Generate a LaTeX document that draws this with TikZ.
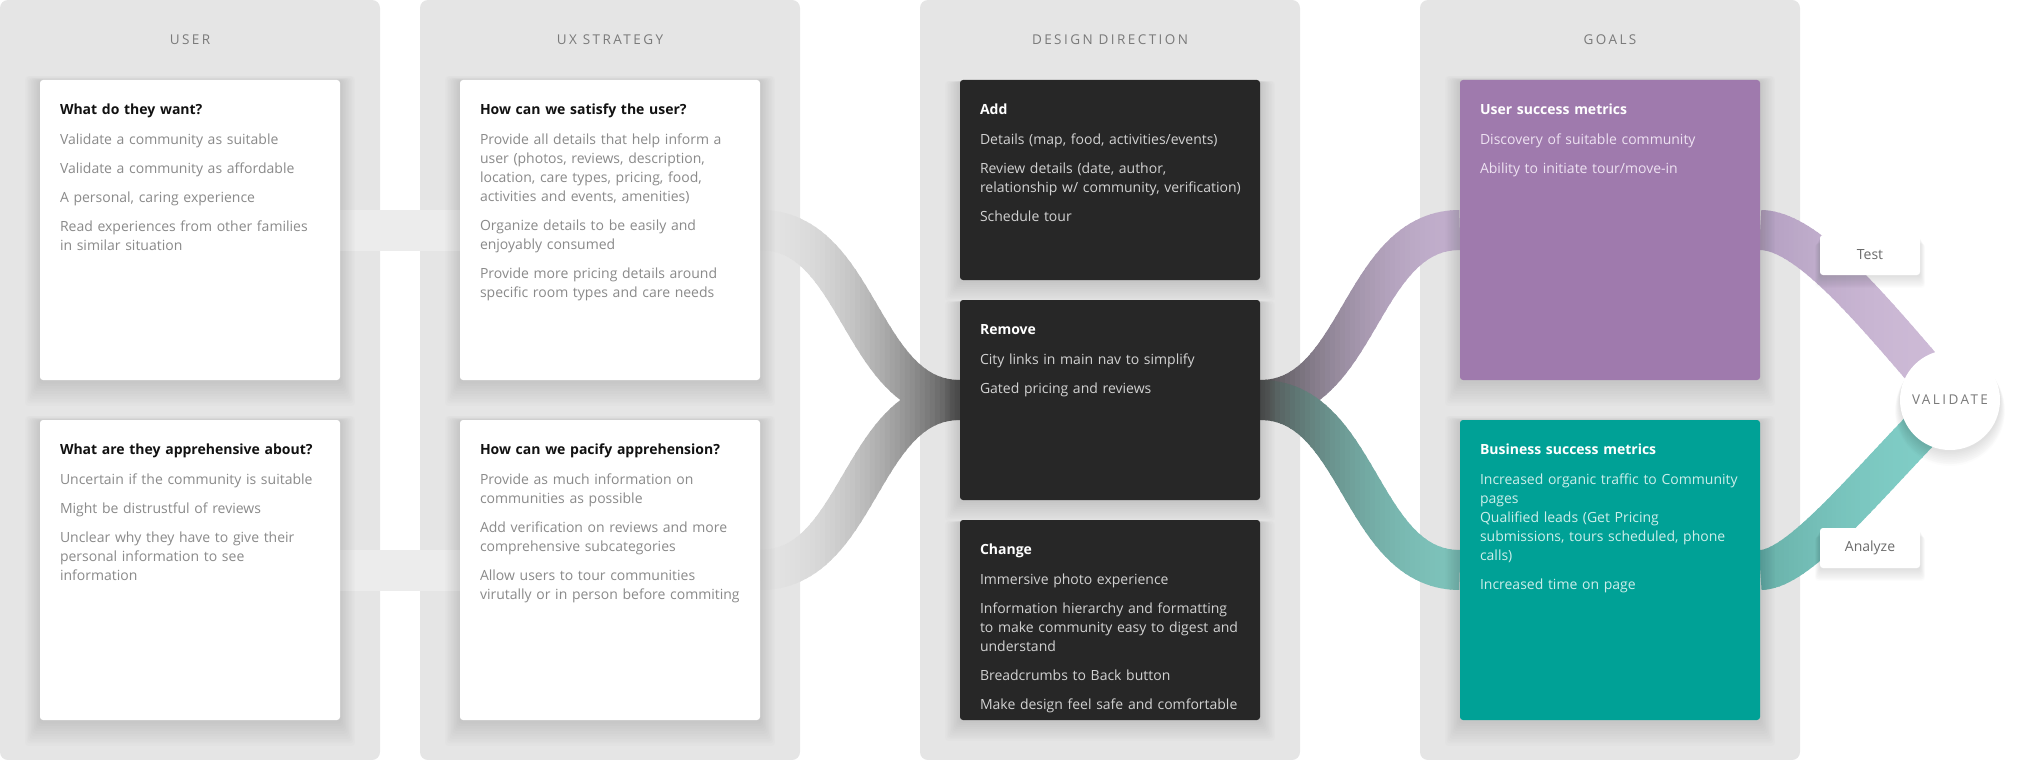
\documentclass[tikz,border=0pt]{standalone}
\usepackage{fontspec}
\setmainfont{Open Sans}
\newfontfamily\spacedfont[LetterSpace=18]{Open Sans}
\usetikzlibrary{shadows}
\definecolor{panelgray}{RGB}{229,229,229}
\definecolor{headgray}{RGB}{122,122,122}
\definecolor{itemgray}{RGB}{138,138,138}
\definecolor{titleblack}{RGB}{17,17,17}
\definecolor{dircol}{RGB}{39,39,39}
\definecolor{diritem}{RGB}{210,210,210}
\definecolor{usercol}{RGB}{159,122,173}
\definecolor{useritem}{RGB}{238,226,242}
\definecolor{bizcol}{RGB}{0,161,150}
\definecolor{bizitem}{RGB}{204,238,234}
\definecolor{flowpale}{RGB}{236,236,236}
\definecolor{flowlight}{RGB}{227,227,227}
\definecolor{flowdark}{RGB}{80,80,80}
\definecolor{flowpurple}{RGB}{193,174,204}
\definecolor{flowteal}{RGB}{125,194,186}
\definecolor{testcol}{RGB}{205,186,214}
\definecolor{testdeep}{RGB}{178,158,192}
\definecolor{analyzecol}{RGB}{128,205,198}
\definecolor{analyzedeep}{RGB}{104,176,168}
\definecolor{taggray}{RGB}{107,107,107}
\pgfdeclarelayer{panels}
\pgfdeclarelayer{flows}
\pgfsetlayers{panels,flows,main}

\begin{document}
\begin{tikzpicture}[
    x=1pt, y=-1pt,
    softshadow/.style={
        general shadow={fill=black, opacity=0.012, shadow xshift=0pt, shadow yshift=-10pt, shadow scale=1.10},
        general shadow={fill=black, opacity=0.012, shadow xshift=0pt, shadow yshift=-9pt, shadow scale=1.09},
        general shadow={fill=black, opacity=0.012, shadow xshift=0pt, shadow yshift=-9pt, shadow scale=1.08},
        general shadow={fill=black, opacity=0.012, shadow xshift=0pt, shadow yshift=-8pt, shadow scale=1.07},
        general shadow={fill=black, opacity=0.012, shadow xshift=0pt, shadow yshift=-7pt, shadow scale=1.06},
        general shadow={fill=black, opacity=0.012, shadow xshift=0pt, shadow yshift=-6pt, shadow scale=1.05},
        general shadow={fill=black, opacity=0.012, shadow xshift=0pt, shadow yshift=-5pt, shadow scale=1.04},
        general shadow={fill=black, opacity=0.012, shadow xshift=0pt, shadow yshift=-4pt, shadow scale=1.03},
        general shadow={fill=black, opacity=0.012, shadow xshift=0pt, shadow yshift=-3pt, shadow scale=1.02},
        general shadow={fill=black, opacity=0.012, shadow xshift=0pt, shadow yshift=-2pt, shadow scale=1.01}},
    panel/.style={rectangle, rounded corners=8pt, fill=panelgray, minimum width=380pt, minimum height=760pt, inner sep=0pt},
    colhead/.style={font=\spacedfont\fontsize{13.5}{16}\selectfont, text=headgray},
    card/.style={rectangle, rounded corners=3pt, minimum width=300pt, minimum height=300pt, inner sep=0pt, softshadow},
    dircard/.style={card, fill=dircol, minimum height=200pt},
    cardtext/.style={anchor=base west, align=left, text width=280pt, inner sep=0pt, font=\fontsize{14}{19}\selectfont},
    flow/.style={line width=40pt},
    tag/.style={rectangle, rounded corners=3pt, fill=white, minimum width=100pt, minimum height=40pt,
        font=\fontsize{14}{17}\selectfont, text=taggray, softshadow},
]
\useasboundingbox (0,0) rectangle (2030,760);

% column panels
\begin{pgfonlayer}{panels}
\node[panel] (pU) at (190,380) {};
\node[panel] (pX) at (610,380) {};
\node[panel] (pD) at (1110,380) {};
\node[panel] (pG) at (1610,380) {};
\end{pgfonlayer}

\node[colhead] (hU) at (190,40) {USER};
\node[colhead] (hX) at (610,40) {UX STRATEGY};
\node[colhead] (hD) at (1110,40) {DESIGN DIRECTION};
\node[colhead] (hG) at (1610,40) {GOALS};

% user
\node[card, fill=white] (u1) at (190,230) {};
\node[cardtext, text=itemgray] (u1t) at ([xshift=20pt,yshift=-35pt]u1.north west)
    {\textcolor{titleblack}{\bfseries What do they want?}\\[11pt]
     Validate a community as suitable\\[10pt]
     Validate a community as affordable\\[10pt]
     A personal, caring experience\\[10pt]
     Read experiences from other families\\
     in similar situation};

\node[card, fill=white] (u2) at (190,570) {};
\node[cardtext, text=itemgray] (u2t) at ([xshift=20pt,yshift=-35pt]u2.north west)
    {\textcolor{titleblack}{\bfseries What are they apprehensive about?}\\[11pt]
     Uncertain if the community is suitable\\[10pt]
     Might be distrustful of reviews\\[10pt]
     Unclear why they have to give their\\
     personal information to see\\
     information};

% ux strategy
\node[card, fill=white] (x1) at (610,230) {};
\node[cardtext, text=itemgray] (x1t) at ([xshift=20pt,yshift=-35pt]x1.north west)
    {\textcolor{titleblack}{\bfseries How can we satisfy the user?}\\[11pt]
     Provide all details that help inform a\\
     user (photos, reviews, description,\\
     location, care types, pricing, food,\\
     activities and events, amenities)\\[10pt]
     Organize details to be easily and\\
     enjoyably consumed\\[10pt]
     Provide more pricing details around\\
     specific room types and care needs};

\node[card, fill=white] (x2) at (610,570) {};
\node[cardtext, text=itemgray] (x2t) at ([xshift=20pt,yshift=-35pt]x2.north west)
    {\textcolor{titleblack}{\bfseries How can we pacify apprehension?}\\[11pt]
     Provide as much information on\\
     communities as possible\\[10pt]
     Add verification on reviews and more\\
     comprehensive subcategories\\[10pt]
     Allow users to tour communities\\
     virutally or in person before commiting};

% design direction
\node[dircard] (dAdd) at (1110,180) {};
\node[cardtext, text=diritem] (dAddt) at ([xshift=20pt,yshift=-35pt]dAdd.north west)
    {\textcolor{white}{\bfseries Add}\\[11pt]
     Details (map, food, activities/events)\\[10pt]
     Review details (date, author,\\
     relationship w/ community, verification)\\[10pt]
     Schedule tour};

\node[dircard] (dRem) at (1110,400) {};
\node[cardtext, text=diritem] (dRemt) at ([xshift=20pt,yshift=-35pt]dRem.north west)
    {\textcolor{white}{\bfseries Remove}\\[11pt]
     City links in main nav to simplify\\[10pt]
     Gated pricing and reviews};

\node[dircard] (dChg) at (1110,620) {};
\node[cardtext, text=diritem] (dChgt) at ([xshift=20pt,yshift=-35pt]dChg.north west)
    {\textcolor{white}{\bfseries Change}\\[11pt]
     Immersive photo experience\\[10pt]
     Information hierarchy and formatting\\
     to make community easy to digest and\\
     understand\\[10pt]
     Breadcrumbs to Back button\\[10pt]
     Make design feel safe and comfortable};

% goals
\node[card, fill=usercol] (g1) at (1610,230) {};
\node[cardtext, text=useritem] (g1t) at ([xshift=20pt,yshift=-35pt]g1.north west)
    {\textcolor{white}{\bfseries User success metrics}\\[11pt]
     Discovery of suitable community\\[10pt]
     Ability to initiate tour/move-in};

\node[card, fill=bizcol] (g2) at (1610,570) {};
\node[cardtext, text=bizitem] (g2t) at ([xshift=20pt,yshift=-35pt]g2.north west)
    {\textcolor{white}{\bfseries Business success metrics}\\[11pt]
     Increased organic traffic to Community\\
     pages\\
     Qualified leads (Get Pricing\\
     submissions, tours scheduled, phone\\
     calls)\\[10pt]
     Increased time on page};

% validation
\node[tag] (test) at (1870,255) {Test};
\node[tag] (analyze) at (1870,548) {Analyze};
\node[circle, fill=white, minimum size=100pt, inner sep=0pt, font=\spacedfont\fontsize{13.5}{16}\selectfont, text=headgray,
    softshadow] (val) at (1950,400) {VALIDATE};

% flows, shaded strip by strip
\begin{pgfonlayer}{flows}
\shade[left color=flowpale, middle color=white, right color=flowpale]
    ([yshift=20pt]u1.east) rectangle ([yshift=-20pt]x1.west);
\shade[left color=flowpale, middle color=white, right color=flowpale]
    ([yshift=20pt]u2.east) rectangle ([yshift=-20pt]x2.west);
\foreach \a/\b/\cax/\cbx/\cby/\lite/\deep/\rev in {
        x1.east/dRem.west/100/-100/0/flowlight/flowdark/0,
        x2.east/dRem.west/100/-100/0/flowlight/flowdark/0,
        dRem.east/g1.west/100/-100/0/flowpurple/flowdark/1,
        dRem.east/g2.west/100/-100/0/flowteal/flowdark/1,
        g1.east/val.center/50/-70/-80/testcol/testdeep/1,
        g2.east/val.center/40/-80/80/analyzecol/analyzedeep/1} {
    \path (\a); \pgfgetlastxy{\xa}{\ya}
    \path (\b); \pgfgetlastxy{\xb}{\yb}
    \foreach \i in {0,...,39} {
        \pgfmathsetmacro{\xl}{\xa+(\xb-\xa)*\i/40}
        \pgfmathsetmacro{\xr}{\xa+(\xb-\xa)*(\i+1.3)/40}
        \pgfmathsetmacro{\tpos}{(\i+0.5)/40}
        \pgfmathsetmacro{\pct}{\rev==1 ? 100*(1-\tpos)^2 : 100*\tpos^2}
        \begin{scope}
            \clip (\xl,-10) rectangle (\xr,770);
            \draw[flow, draw=\deep!\pct!\lite] (\a) .. controls +(\cax,0) and +(\cbx,\cby) .. (\b);
        \end{scope}
    }
}
\end{pgfonlayer}

\end{tikzpicture}
\end{document}
